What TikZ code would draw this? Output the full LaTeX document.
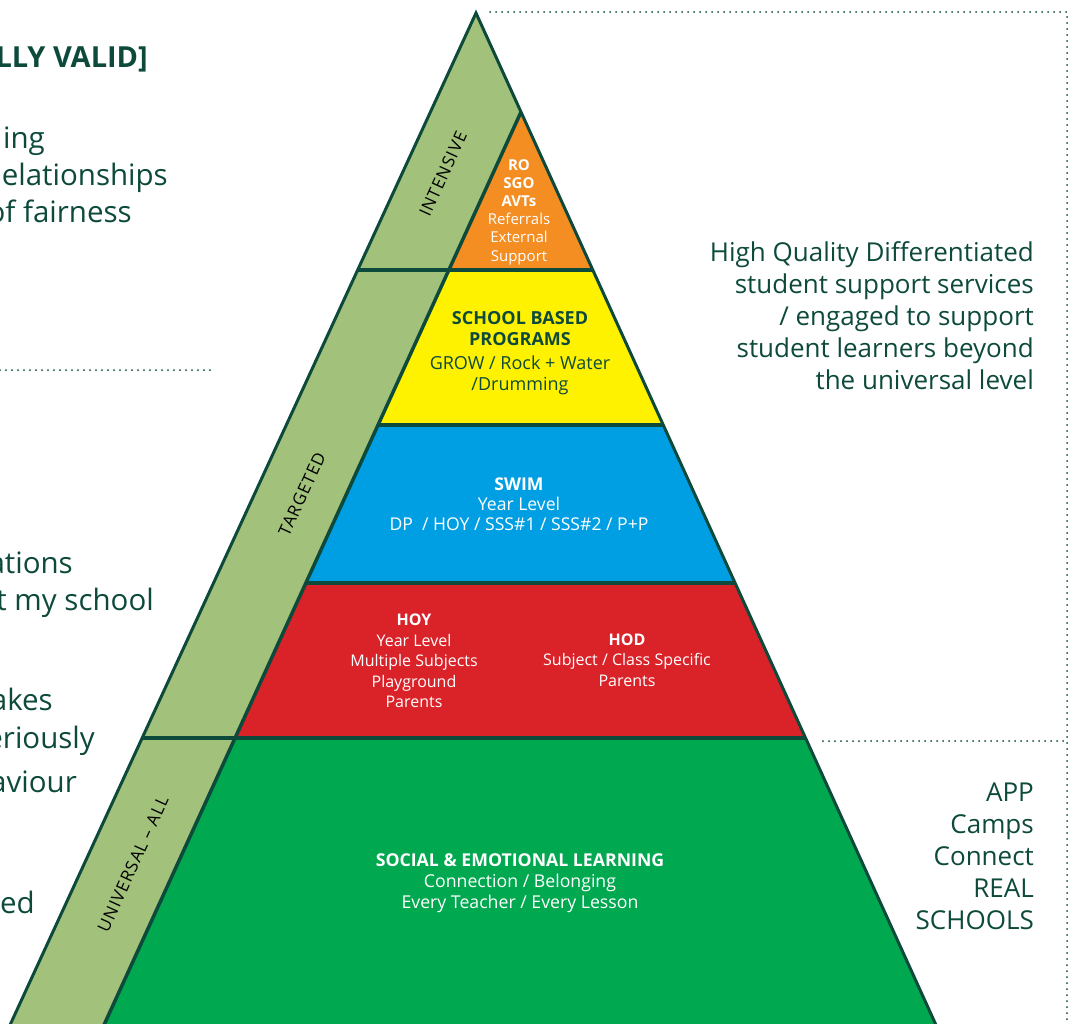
\documentclass[tikz,border=0pt]{standalone}
\usepackage{fontspec}
\setmainfont{Open Sans}
\usetikzlibrary{calc}

\definecolor{ink}{HTML}{0D4A3C}
\definecolor{bandgreen}{HTML}{A2C17A}
\definecolor{tierorange}{HTML}{F48D22}
\definecolor{tieryellow}{HTML}{FFF200}
\definecolor{tierblue}{HTML}{009FE3}
\definecolor{tierred}{HTML}{DA2229}
\definecolor{tiergreen}{HTML}{00A84F}

\tikzset{
  edge/.style={draw=ink, line width=3pt, line join=miter},
  divider/.style={draw=ink, line width=4pt},
  dotline/.style={draw=ink, line width=2pt, dash pattern=on 0pt off 6pt, line cap=round},
  tiertext/.style={align=center, text=white, inner sep=0pt, font=\fontsize{16}{20}\selectfont},
  bandlabel/.style={rotate=65.4, inner sep=0pt, text=black,
    font=\fontsize{17}{18}\selectfont\addfontfeatures{LetterSpace=6}},
  sidetext/.style={align=right, anchor=east, inner sep=0pt, text=ink, font=\fontsize{26}{32}\selectfont},
  lefttext/.style={anchor=base east, inner sep=0pt, text=ink, font=\fontsize{29.5}{36}\selectfont},
}

\begin{document}
\begin{tikzpicture}[x=1pt, y=-1pt]
  \useasboundingbox (0,0) rectangle (1075,1023);
  \clip (0,0) rectangle (1075,1023);

  % outer apex, inner apex and the corners of every tier
  \coordinate (A) at (476,13);
  \coordinate (B) at (521,112);
  \coordinate (L270) at (357.7,270);
  \coordinate (I270) at (449,270);
  \coordinate (R270) at (592.8,270);
  \coordinate (I425) at (378.2,425);
  \coordinate (R425) at (663.3,425);
  \coordinate (I583) at (305.9,583);
  \coordinate (R583) at (735.1,583);
  \coordinate (L738) at (142.1,738);
  \coordinate (I738) at (235.1,738);
  \coordinate (R738) at (805.5,738);
  \coordinate (Lbot) at (3.1,1040);
  \coordinate (Ibot) at (97.1,1040);
  \coordinate (Rbot) at (942.8,1040);

  % side band and tiers
  \fill[bandgreen] (A) -- (Lbot) -- (Rbot) -- cycle;
  \fill[tierorange] (B) -- (I270) -- (R270) -- cycle;
  \fill[tieryellow] (I270) -- (I425) -- (R425) -- (R270) -- cycle;
  \fill[tierblue] (I425) -- (I583) -- (R583) -- (R425) -- cycle;
  \fill[tierred] (I583) -- (I738) -- (R738) -- (R583) -- cycle;
  \fill[tiergreen] (I738) -- (Ibot) -- (Rbot) -- (R738) -- cycle;

  % outlines
  \draw[divider] (L270) -- (R270);
  \draw[divider] (I425) -- (R425);
  \draw[divider] (I583) -- (R583);
  \draw[divider] (L738) -- (R738);
  \draw[edge, line width=3.5pt] (B) -- (Ibot);
  \draw[edge] (Lbot) -- (A) -- (Rbot);

  % dotted frame lines
  \coordinate (topstart) at (490,12);
  \coordinate (topcorner) at (1067,12);
  \coordinate (rightend) at (1067,1030);
  \coordinate (midstart) at (823,741);
  \coordinate (midend) at (1067,741);
  \coordinate (leftstart) at (0,370);
  \coordinate (leftend) at (214,370);
  \draw[dotline] (topstart) -- (topcorner) -- (rightend);
  \draw[dotline] (midstart) -- (midend);
  \draw[dotline] (leftstart) -- (leftend);

  % band labels
  \node[bandlabel] (intensive) at (443,174) {INTENSIVE};
  \node[bandlabel] (targeted) at (302,494) {TARGETED};
  \node[bandlabel] (universal) at (133,864) {UNIVERSAL – ALL};

  % tier contents
  \node[tiertext, font=\fontsize{15}{18.2}\selectfont] (orange) at (519,212)
    {\textbf{RO}\\\textbf{SGO}\\\textbf{AVTs}\\Referrals\\External\\Support};
  \node[tiertext, text=ink, font=\fontsize{18}{20.5}\selectfont] (yellow) at (520,353)
    {\textbf{SCHOOL BASED}\\\textbf{PROGRAMS}\\[4pt]GROW / Rock + Water\\/Drumming};
  \node[tiertext, font=\fontsize{17.6}{20}\selectfont] (blue) at (519,504)
    {\textbf{SWIM}\\Year Level\\DP\ \ / HOY / SSS\#1 / SSS\#2 / P+P};
  \node[tiertext, font=\fontsize{16}{20.5}\selectfont] (hoy) at (414,661)
    {\textbf{HOY}\\Year Level\\Multiple Subjects\\Playground\\Parents};
  \node[tiertext, font=\fontsize{16}{20.5}\selectfont] (hod) at (627,660)
    {\textbf{HOD}\\Subject / Class Specific\\Parents};
  \node[tiertext, font=\fontsize{17.7}{21}\selectfont] (sel) at (520,883)
    {\textbf{SOCIAL \& EMOTIONAL LEARNING}\\Connection / Belonging\\Every Teacher / Every Lesson};

  % right-hand notes
  \node[sidetext] (services) at (1034,316)
    {High Quality Differentiated\\student support services\\/ engaged to support\\student learners beyond\\the universal level};
  \node[sidetext] (programs) at (1034,856)
    {APP\\Camps\\Connect\\REAL\\SCHOOLS};

  % left-hand notes
  \node[lefttext, font=\bfseries\fontsize{29}{36}\selectfont] (valid) at (148,67) {LLY VALID]};
  \node[lefttext] (l1) at (45,148) {ing};
  \node[lefttext] (l2) at (168,185) {elationships};
  \node[lefttext] (l3) at (132,222) {of fairness};
  \node[lefttext] (l4) at (73,573) {ations};
  \node[lefttext] (l5) at (154,610) {t my school};
  \node[lefttext] (l6) at (53,710) {akes};
  \node[lefttext] (l7) at (95,748) {eriously};
  \node[lefttext] (l8) at (77,792) {aviour};
  \node[lefttext] (l9) at (35,913) {ed};
\end{tikzpicture}
\end{document}
